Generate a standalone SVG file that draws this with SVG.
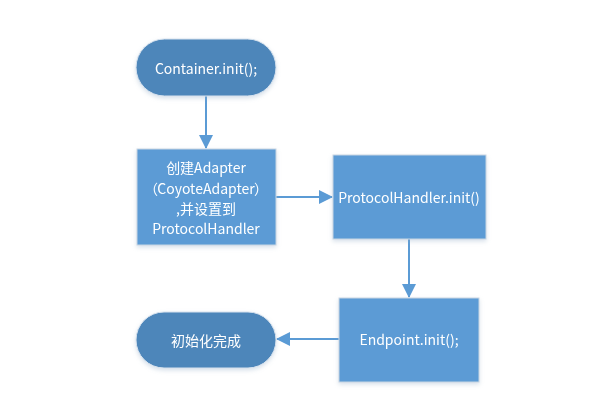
<svg xmlns="http://www.w3.org/2000/svg" width="606" height="420" viewBox="0 0 606 420">
<style>
.term{fill:#4e86ba;stroke:#d6e2ee;stroke-width:1}
.proc{fill:#5b9bd5;stroke:#c9d6e3;stroke-width:1}
.t{font-family:"Noto Sans CJK SC","Microsoft YaHei",sans-serif;font-size:14px;fill:#ffffff;text-anchor:middle;dominant-baseline:central}
.c{stroke:#5b9bd5;stroke-width:2;fill:none}
</style>
<defs>
<marker id="ah2" markerWidth="14" markerHeight="14" refX="13" refY="7" orient="auto" markerUnits="userSpaceOnUse" viewBox="0 0 14 14">
<path d="M0,0 L14,7 L0,14 z" fill="#5b9bd5"/>
</marker>
<filter id="sh" x="-10%" y="-10%" width="130%" height="140%">
<feDropShadow dx="0" dy="2" stdDeviation="2" flood-color="#8fa9c4" flood-opacity="0.35"/>
</filter>
</defs>
<rect width="606" height="420" fill="#ffffff"/>
<g id="connectors">
<path class="c" d="M206,96 V148" marker-end="url(#ah2)"/>
<path class="c" d="M276,197 H332" marker-end="url(#ah2)"/>
<path class="c" d="M409,239 V297" marker-end="url(#ah2)"/>
<path class="c" d="M339,339 H277" marker-end="url(#ah2)"/>
</g>
<g id="n-container" filter="url(#sh)">
<rect class="term" x="136" y="39" width="140" height="57" rx="28.5"/>
<text class="t" x="206" y="68">Container.init();</text>
</g>
<g id="n-adapter" filter="url(#sh)">
<rect class="proc" x="137" y="149" width="139" height="96"/>
<text class="t" x="206" y="167">创建Adapter</text>
<text class="t" x="206" y="188"><tspan x="151">（</tspan><tspan x="206">CoyoteAdapter</tspan><tspan x="261">）</tspan></text>
<text class="t" x="206" y="208">,并设置到</text>
<text class="t" x="206" y="228">ProtocolHandler</text>
</g>
<g id="n-protocol" filter="url(#sh)">
<rect class="proc" x="333" y="155" width="153" height="84"/>
<text class="t" x="409" y="197">ProtocolHandler.init()</text>
</g>
<g id="n-endpoint" filter="url(#sh)">
<rect class="proc" x="339" y="298" width="140" height="84"/>
<text class="t" x="409" y="339">Endpoint.init();</text>
</g>
<g id="n-done" filter="url(#sh)">
<rect class="term" x="136" y="312" width="140" height="56" rx="28"/>
<text class="t" x="206" y="340">初始化完成</text>
</g>
</svg>
